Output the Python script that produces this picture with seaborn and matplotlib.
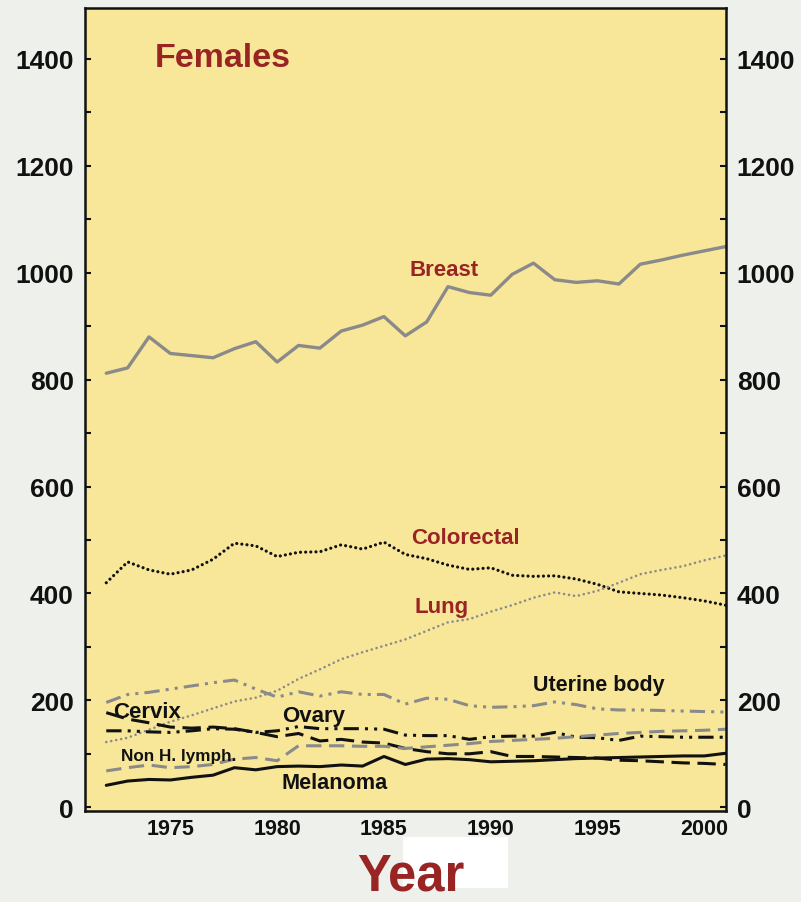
import numpy as np
import pandas as pd
import seaborn as sns
import matplotlib.pyplot as plt
from matplotlib.patches import Rectangle
from matplotlib.ticker import MultipleLocator

# Female cancer incidence by site, 1972-2001
years = list(range(1972, 2002))

breast = [812, 822, 880, 849, 845, 841, 858, 871, 833, 864, 859, 891, 902, 918, 882,
          908, 974, 963, 958, 997, 1018, 987, 982, 985, 979, 1016, 1024, 1033, 1041, 1049]
colorectal = [420, 459, 444, 436, 444, 464, 494, 489, 469, 477, 478, 491, 483, 496, 473,
              465, 453, 445, 448, 434, 432, 433, 427, 417, 403, 400, 397, 392, 386, 378]
lung = [122, 130, 145, 160, 172, 185, 198, 205, 218, 240, 258, 277, 290, 302, 314,
        330, 346, 352, 366, 378, 392, 402, 395, 405, 420, 436, 444, 451, 462, 471]
uterine = [196, 211, 215, 221, 227, 233, 238, 221, 206, 216, 208, 216, 211, 211, 193,
           204, 202, 190, 187, 188, 190, 197, 192, 184, 182, 182, 181, 180, 179, 178]
cervix = [177, 165, 158, 150, 148, 150, 147, 140, 132, 138, 124, 127, 122, 120, 110,
          104, 100, 100, 104, 95, 95, 94, 93, 92, 88, 87, 85, 83, 82, 80]
ovary = [143, 143, 141, 140, 143, 147, 146, 140, 143, 151, 147, 147, 147, 146, 135,
         134, 134, 127, 132, 133, 133, 140, 131, 130, 125, 133, 132, 131, 131, 131]
nhl = [68, 74, 79, 74, 76, 80, 90, 93, 87, 115, 115, 115, 114, 114, 110,
       113, 116, 119, 123, 125, 127, 129, 132, 135, 138, 140, 142, 143, 144, 146]
melanoma = [41, 49, 52, 51, 56, 60, 74, 70, 76, 77, 76, 79, 77, 95, 80,
            90, 91, 89, 85, 86, 87, 89, 91, 92, 93, 94, 95, 96, 96, 101]

series_names = ["Breast", "Colorectal", "Lung", "Uterine body", "Cervix", "Ovary",
                "Non H. lymph.", "Melanoma"]
series_values = [breast, colorectal, lung, uterine, cervix, ovary, nhl, melanoma]
x_ticks = [1975, 1980, 1985, 1990, 1995, 2000]

df = pd.DataFrame({"Year": years})
for name, vals in zip(series_names, series_values):
    df[name] = vals
long_df = df.melt(id_vars="Year", var_name="Site", value_name="Rate")

GREY = "#8a8a8a"
BLACK = "#111111"
DARKRED = "#992424"
styles = {
    "Breast": dict(color=GREY, linestyle="-", linewidth=2.4),
    "Colorectal": dict(color=BLACK, linestyle=(0, (0.01, 1.6)), linewidth=2.3,
                       dash_capstyle="round"),
    "Lung": dict(color=GREY, linestyle=(0, (0.01, 1.9)), linewidth=1.9,
                 dash_capstyle="round"),
    "Uterine body": dict(color=GREY, linestyle=(0, (5, 2, 1, 2, 1, 2)), linewidth=2.2),
    "Cervix": dict(color=BLACK, linestyle=(0, (6, 2.5)), linewidth=2.2),
    "Ovary": dict(color=BLACK, linestyle=(0, (5, 2, 1, 2, 1, 2)), linewidth=2.2),
    "Non H. lymph.": dict(color=GREY, linestyle=(0, (5, 2.5)), linewidth=2.2),
    "Melanoma": dict(color=BLACK, linestyle="-", linewidth=2.2),
}

sns.set_style("white")
plt.rcParams["font.family"] = ["Liberation Sans", "DejaVu Sans"]

fig = plt.figure(figsize=(8.01, 9.03), dpi=100, facecolor="#eef0ec")
ax = fig.add_axes([0.106, 0.1008, 0.800, 0.889])
ax.set_facecolor("#f8e799")

for name in series_names:
    sub = long_df[long_df["Site"] == name]
    sns.lineplot(data=sub, x="Year", y="Rate", ax=ax, **styles[name])

ax.set_xlim(1971, 2001)
ax.set_ylim(-7, 1495)
ax.xaxis.set_minor_locator(MultipleLocator(1))
ax.yaxis.set_major_locator(MultipleLocator(200))
ax.yaxis.set_minor_locator(MultipleLocator(100))
ax.set_xticks(x_ticks)
ax.tick_params(axis="x", which="major", direction="in", length=10, width=2,
               labelsize=15.5, pad=5, color=BLACK, labelcolor=BLACK)
ax.tick_params(axis="x", which="minor", direction="in", length=5, width=1.6,
               color=BLACK)
ax.tick_params(axis="y", which="both", direction="in", left=True, right=True,
               labelleft=True, labelright=True, length=4, width=1.5,
               labelsize=19, pad=8, color=BLACK, labelcolor=BLACK)
for t in ax.xaxis.get_major_ticks() + ax.yaxis.get_major_ticks():
    t.label1.set_fontweight("bold")
    t.label2.set_fontweight("bold")
ax.set_xlabel("")
ax.set_ylabel("")
for sp in ax.spines.values():
    sp.set_visible(True)
    sp.set_color(BLACK)
    sp.set_linewidth(1.8)

# Labels
lab_kw = dict(fontweight="bold", ha="center", va="center")
ax.text(1977.45, 1403, "Females", color=DARKRED, fontsize=24.5, **lab_kw)
ax.text(1987.8, 1007, "Breast", color=DARKRED, fontsize=16, **lab_kw)
ax.text(1988.8, 505, "Colorectal", color=DARKRED, fontsize=16, **lab_kw)
ax.text(1987.7, 376, "Lung", color=DARKRED, fontsize=16, **lab_kw)
ax.text(1995.05, 230, "Uterine body", color=BLACK, fontsize=15.5, **lab_kw)
ax.text(1973.9, 180, "Cervix", color=BLACK, fontsize=16, **lab_kw)
ax.text(1981.7, 172, "Ovary", color=BLACK, fontsize=16, **lab_kw)
ax.text(1975.4, 97, "Non H. lymph.", color=BLACK, fontsize=12.3, **lab_kw)
ax.text(1982.7, 47, "Melanoma", color=BLACK, fontsize=15.6, **lab_kw)

# scanned artifact box and axis title
fig.patches.append(Rectangle((403 / 801, 1 - 889 / 903), 105 / 801, 51 / 903,
                             transform=fig.transFigure, facecolor="white",
                             edgecolor="none", zorder=0))
fig.text(411 / 801, 1.5 / 903, "Year", color=DARKRED, fontsize=36.5,
         fontweight="bold", ha="center", va="bottom")

fig.savefig("out.png", dpi=100, facecolor=fig.get_facecolor())
